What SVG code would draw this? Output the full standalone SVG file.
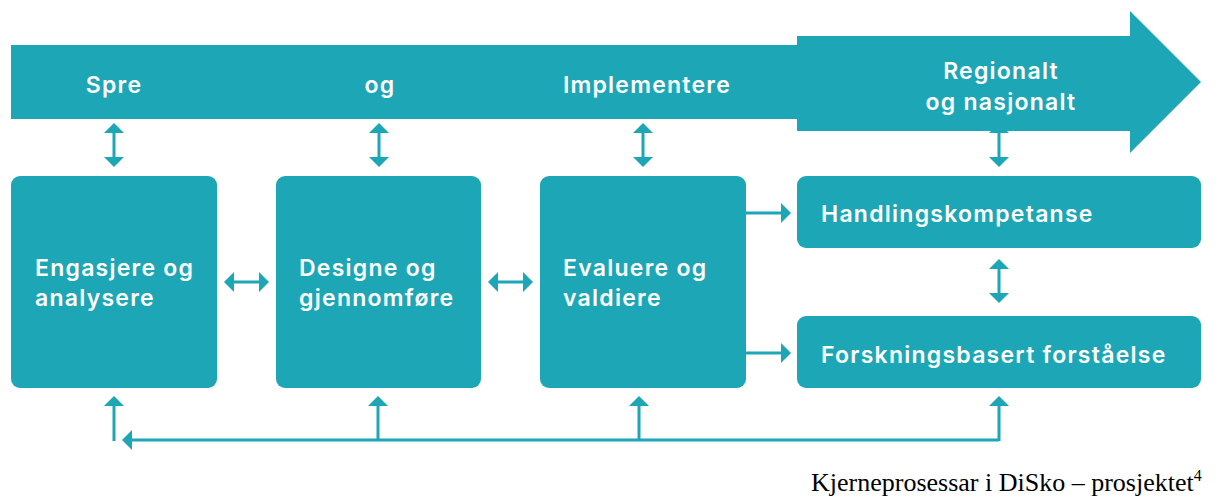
<svg xmlns="http://www.w3.org/2000/svg" width="1220" height="497" viewBox="0 0 1220 497">
  <style>
    .shape { fill: #1ca6b6; }
    .lbl { fill: #ffffff; font-family: Inter, "Liberation Sans", sans-serif; font-weight: 600; font-size: 23px; letter-spacing: 1.25px; }
    .mid { text-anchor: middle; }
    .conn { stroke: #1ca6b6; stroke-width: 3; fill: none; }
    .cap { fill: #000000; font-family: "Liberation Serif", serif; font-size: 26px; }
  </style>
  <defs>
    <marker id="ah" viewBox="0 0 10 20" markerWidth="10" markerHeight="20" refX="7" refY="10" orient="auto-start-reverse" markerUnits="userSpaceOnUse">
      <path d="M0,0 L10,10 L0,20 z" fill="#1ca6b6"/>
    </marker>
  </defs>

  <g id="connectors">
    <!-- top double arrows -->
    <line class="conn" x1="114" y1="126" x2="114" y2="164" marker-start="url(#ah)" marker-end="url(#ah)"/>
    <line class="conn" x1="379" y1="126" x2="379" y2="164" marker-start="url(#ah)" marker-end="url(#ah)"/>
    <line class="conn" x1="643" y1="126" x2="643" y2="164" marker-start="url(#ah)" marker-end="url(#ah)"/>
    <line class="conn" x1="999" y1="126" x2="999" y2="164" marker-start="url(#ah)" marker-end="url(#ah)"/>
    <!-- horizontal double arrows between boxes -->
    <line class="conn" x1="227" y1="282" x2="266" y2="282" marker-start="url(#ah)" marker-end="url(#ah)"/>
    <line class="conn" x1="491" y1="282" x2="530" y2="282" marker-start="url(#ah)" marker-end="url(#ah)"/>
    <!-- arrows to right boxes -->
    <line class="conn" x1="746" y1="213" x2="788" y2="213" marker-end="url(#ah)"/>
    <line class="conn" x1="746" y1="353" x2="788" y2="353" marker-end="url(#ah)"/>
    <!-- between right boxes -->
    <line class="conn" x1="999" y1="262" x2="999" y2="300" marker-start="url(#ah)" marker-end="url(#ah)"/>
    <!-- bottom feedback -->
    <line class="conn" x1="114" y1="441" x2="114" y2="399" marker-end="url(#ah)"/>
    <path class="conn" d="M999,440 L125,440" marker-end="url(#ah)"/>
    <line class="conn" x1="378" y1="441" x2="378" y2="399" marker-end="url(#ah)"/>
    <line class="conn" x1="639" y1="441" x2="639" y2="399" marker-end="url(#ah)"/>
    <line class="conn" x1="999" y1="441" x2="999" y2="399" marker-end="url(#ah)"/>
  </g>

  <g id="process-bar">
    <rect class="shape" x="11" y="45" width="787" height="74"/>
    <text class="lbl mid" x="114" y="93">Spre</text>
    <text class="lbl mid" x="380" y="93">og</text>
    <text class="lbl mid" x="647" y="93">Implementere</text>
  </g>

  <g id="regional-arrow">
    <polygon class="shape" points="797,36 1130,36 1130,11 1201,82 1130,153 1130,131 797,131"/>
    <text class="lbl mid" x="1001" y="79">Regionalt</text>
    <text class="lbl mid" x="1001" y="110">og nasjonalt</text>
  </g>

  <g id="engasjere">
    <rect class="shape" x="11" y="176" width="206" height="212" rx="9"/>
    <text class="lbl" x="35" y="276">Engasjere og</text>
    <text class="lbl" x="35" y="306">analysere</text>
  </g>

  <g id="designe">
    <rect class="shape" x="276" y="176" width="205" height="212" rx="9"/>
    <text class="lbl" x="299" y="276">Designe og</text>
    <text class="lbl" x="299" y="306">gjennomføre</text>
  </g>

  <g id="evaluere">
    <rect class="shape" x="540" y="176" width="206" height="212" rx="9"/>
    <text class="lbl" x="563" y="276">Evaluere og</text>
    <text class="lbl" x="563" y="306">valdiere</text>
  </g>

  <g id="handlingskompetanse">
    <rect class="shape" x="797" y="176" width="404" height="72" rx="9"/>
    <text class="lbl" x="821" y="222">Handlingskompetanse</text>
  </g>

  <g id="forskningsbasert">
    <rect class="shape" x="797" y="316" width="404" height="72" rx="9"/>
    <text class="lbl" x="821" y="363">Forskningsbasert forståelse</text>
  </g>

  <g id="caption">
    <text class="cap" x="811" y="491">Kjerneprosessar i DiSko – prosjektet<tspan font-size="16" dy="-10">4</tspan></text>
  </g>
</svg>
